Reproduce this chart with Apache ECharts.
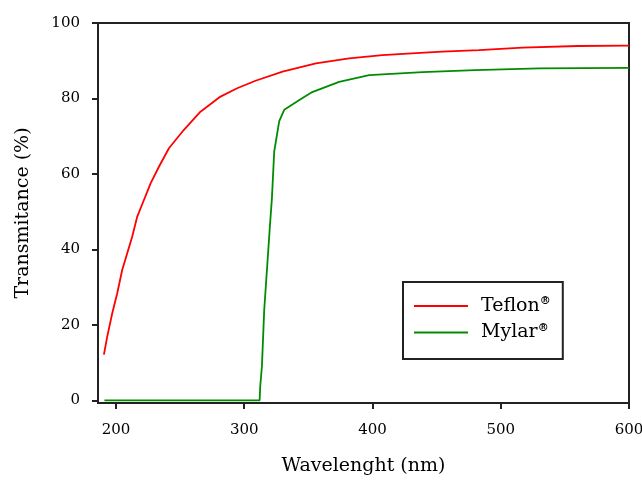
<!DOCTYPE html>
<html>
<head>
<meta charset="utf-8">
<script src="https://cdn.jsdelivr.net/npm/echarts@6/dist/echarts.min.js"></script>
<style>html,body{margin:0;padding:0;background:#fff}#c{width:642px;height:486px}</style>
</head>
<body>
<div id="c"></div>
<script>
const seriesNames = ['Teflon', 'Mylar'];
const teflonX = [190.6,193.2,197.1,201,204.9,208.8,212.7,216.6,221.8,227,233.5,241.3,253,265.9,281.5,294.5,308.8,329.9,355.9,381.8,407.8,433.8,454.3,483,517,560,600];
const teflonY = [12.1,16.9,23.1,28.4,34.6,39,43.4,48.7,53.1,57.5,61.9,66.8,71.7,76.5,80.5,82.7,84.7,87.1,89.3,90.6,91.5,92,92.4,92.8,93.5,93.9,94];
const mylarX = [191,312,312.5,313.8,315.6,318,320,321.6,323.4,327.3,331.2,343,353,374,397.4,439,480,530,600];
const mylarY = [0,0,3.8,9,24,36,46,53.6,66,74,77,79.6,81.7,84.4,86.2,87,87.5,88,88.1];
const xTicks = [200,300,400,500,600];
const yTicks = [0,20,40,60,80,100];

const pair = (xs, ys) => xs.map((x, i) => [x, ys[i]]);
const font = 'DejaVu Serif';
const chart = echarts.init(document.getElementById('c'));
chart.setOption({
  animation: false,
  grid: { left: 98, right: 13, top: 23, bottom: 83, show: true, borderColor: '#222', borderWidth: 2, outerBoundsMode: 'none', containLabel: false },
  xAxis: {
    type: 'value', min: 186, max: 600,
    name: 'Wavelenght (nm)', nameLocation: 'middle', nameGap: 54,
    nameTextStyle: { fontFamily: font, fontSize: 19, color: '#000' },
    axisLine: { show: true, onZero: false, lineStyle: { color: '#222', width: 2 } },
    axisTick: { show: true, length: 6, customValues: xTicks, lineStyle: { color: '#222', width: 2 } },
    axisLabel: { customValues: xTicks, margin: 20, fontFamily: font, fontSize: 15, color: '#000', hideOverlap: false },
    splitLine: { show: false }
  },
  yAxis: {
    type: 'value', min: -0.7, max: 100,
    name: 'Transmitance (%)', nameLocation: 'middle', nameGap: 65,
    nameTextStyle: { fontFamily: font, fontSize: 19, color: '#000' },
    axisLine: { show: true, onZero: false, lineStyle: { color: '#222', width: 2 } },
    axisTick: { show: true, length: 6, customValues: yTicks, lineStyle: { color: '#222', width: 2 } },
    axisLabel: { customValues: yTicks, margin: 18, fontFamily: font, fontSize: 15, color: '#000' },
    splitLine: { show: false }
  },
  legend: {
    orient: 'vertical', left: 403, top: 282,
    padding: [14, 12, 17, 11],
    borderColor: '#222', borderWidth: 2,
    itemWidth: 54, itemHeight: 2, itemGap: 7,
    icon: 'rect',
    formatter: n => '{n|' + n + '}{s|®}',
    textStyle: {
      fontFamily: font, fontSize: 19, color: '#000',
      rich: {
        n: { fontFamily: font, fontSize: 19, color: '#000', padding: [0, 0, 0, 8], lineHeight: 20 },
        s: { fontFamily: font, fontSize: 11, fontWeight: 'bold', color: '#000', verticalAlign: 'top', padding: [0, 0, 8, 0] }
      }
    },
    data: seriesNames
  },
  series: [
    { name: seriesNames[0], type: 'line', data: pair(teflonX, teflonY), showSymbol: false, symbol: 'none',
      itemStyle: { color: '#ff0000' }, lineStyle: { color: '#ff0000', width: 1.8 } },
    { name: seriesNames[1], type: 'line', data: pair(mylarX, mylarY), showSymbol: false, symbol: 'none',
      itemStyle: { color: '#008c00' }, lineStyle: { color: '#008c00', width: 1.8 } }
  ]
});
</script>
</body>
</html>
